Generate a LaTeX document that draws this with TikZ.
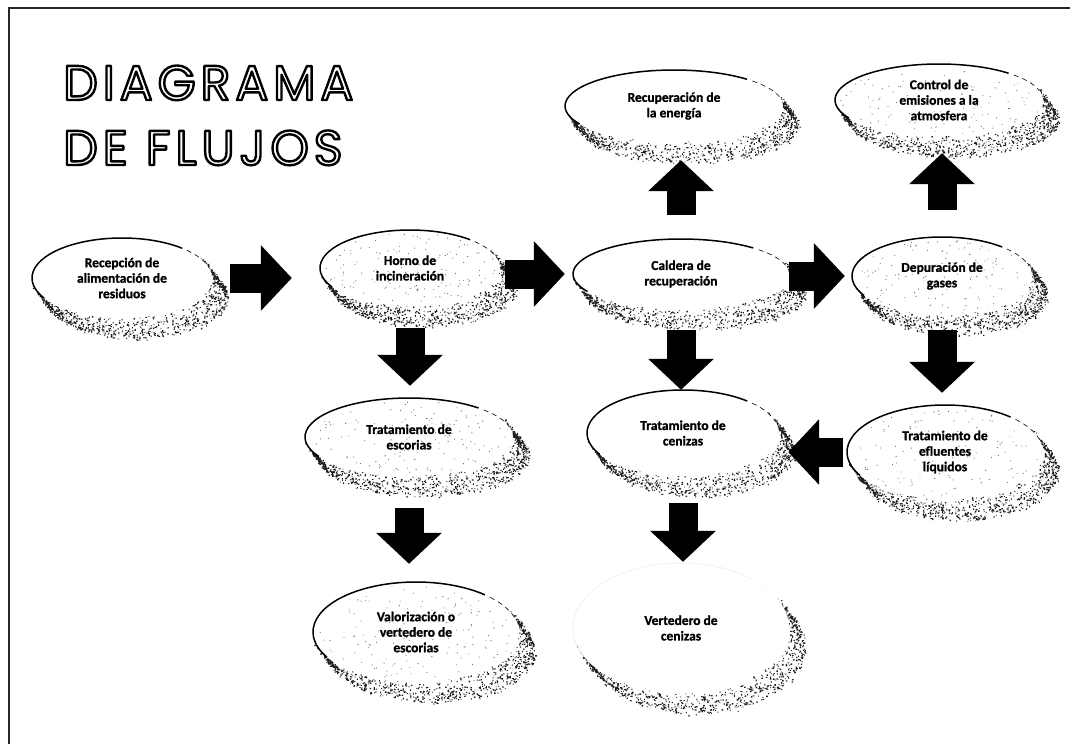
\documentclass[tikz,border=0pt]{standalone}
\usepackage{fontspec}
\setmainfont{Carlito}[BoldFeatures={FakeBold=1.2}]
\newfontfamily\titlefont[LetterSpace=10]{Poppins}
\usetikzlibrary{shapes.geometric,arrows.meta}

\colorlet{grain}{black!88}

% stroked (hollow) lettering
\newcommand\hollowtext[1]{%
  \special{pdf:literal direct 1 Tr 2.4 w 1 j}#1\special{pdf:literal direct 0 Tr}}

% #1 name, #2 cx, #3 cy, #4 rx, #5 ry, #6 inner specks, #7 rim opacity, #8 text
\newcommand\flowellipse[8]{%
  % grainy shadow swept towards the lower right
  \fill[grain] \foreach \k [evaluate=\k as \spkT using {-30+205*rnd},
                            evaluate=\k as \spkR using {1.2*rnd^0.75}] in {1,...,880}
    {({#2+#4*cos(\spkT)+13*\spkR+4*(rnd-0.5)},{#3+#5*sin(\spkT)+17*\spkR+4*(rnd-0.5)})
      rectangle ++({0.7+0.9*rnd},{0.7+0.9*rnd})};
  \fill[white] (#2,#3) ellipse [x radius=#4, y radius=#5];
  \ifnum#6>0
    \fill[black!55] \foreach \k [evaluate=\k as \spkT using {360*rnd},
                                 evaluate=\k as \spkR using {0.95*sqrt(rnd)}] in {1,...,#6}
      {({#2+#4*\spkR*cos(\spkT)},{#3+#5*\spkR*sin(\spkT)}) rectangle ++(0.9,0.9)};
  \fi
  \draw[rimline, draw opacity=#7] (#2,#3) ++(150:#4 and #5)
    arc[start angle=150, end angle=312, x radius=#4, y radius=#5];
  \draw[rimline, line width=0.6pt, dash pattern=on 5pt off 4pt, draw opacity=#7]
    (#2,#3) ++(316:#4 and #5) arc[start angle=316, end angle=345, x radius=#4, y radius=#5];
  \node[flowtext, minimum width={2*#4}, minimum height={2*#5}] (#1) at (#2,#3) {#8};
}

\begin{document}
\begin{tikzpicture}[x=1pt, y=-1pt,
  flowtext/.style={shape=ellipse, inner sep=0pt, align=center,
    font=\bfseries\fontsize{13.5}{15.5}\selectfont},
  rimline/.style={line width=1.5pt, black},
  bigarrow/.style={line width=29pt, black, -{Triangle[length=31pt, width=64pt]}},
  frame/.style={line width=1.6pt, black!85}]
\pgfmathsetseed{2024}
\useasboundingbox (0,0) rectangle (1070,744);
\draw[frame] (9,744) -- (9,8) -- (1070,8);

% title
\node[anchor=base west, inner sep=0pt] (titleA) at (63,100)
  {\titlefont\fontsize{49}{49}\selectfont\hollowtext{DIAGRAMA}};
\node[anchor=base west, inner sep=0pt] (titleB) at (63,165)
  {\titlefont\fontsize{49}{49}\selectfont\hollowtext{DE FLUJOS}};

% process stages
\flowellipse{energia}{674}{106}{109}{36}{0}{1}{Recuperación de\\la energía}
\flowellipse{control}{939}{100}{104}{36}{110}{1}{Control de\\emisiones a la\\atmosfera}
\flowellipse{recep}{122}{278}{90}{40}{0}{1}{Recepción de\\alimentación de\\residuos}
\flowellipse{horno}{410}{268}{90}{38}{140}{1}{Horno de\\incineración}
\flowellipse{caldera}{681}{274}{108}{35}{0}{1}{Caldera de\\recuperación}
\flowellipse{depur}{942}{276}{90}{39}{130}{1}{Depuración de\\gases}
\flowellipse{escorias}{409}{437}{104}{39}{140}{1}{Tratamiento de\\escorias}
\flowellipse{cenizas}{683}{433}{96}{43}{0}{1}{Tratamiento de\\cenizas}
\flowellipse{efluentes}{945}{452}{98}{47}{120}{1}{Tratamiento de\\efluentes\\líquidos}
\flowellipse{valoriz}{416}{632}{103}{50}{140}{1}{Valorización o\\vertedero de\\escorias}
\flowellipse{vertedero}{681}{628}{108}{65}{0}{0.04}{Vertedero de\\cenizas}

% flows
\draw[bigarrow, shorten <=18pt, shorten >=28pt] (recep.east) -- (recep.east -| horno.west);
\draw[bigarrow, shorten <=5pt, shorten >=8pt] (caldera.west -| horno.east) -- (caldera.west);
\draw[bigarrow, shorten >=7pt] (depur.west -| caldera.east) -- (depur.west);
\draw[bigarrow, shorten <=4pt, shorten >=9pt] (efluentes.west) -- (efluentes.west -| cenizas.east);
\draw[bigarrow, shorten <=22pt, shorten >=12pt] (horno.south) -- (horno.south |- escorias.north);
\draw[bigarrow, shorten <=21pt] (caldera.south) -- (caldera.south |- cenizas.north);
\draw[bigarrow, shorten <=15pt, shorten >=12pt] (depur.south) -- (depur.south |- efluentes.north);
\draw[bigarrow, shorten <=32pt, shorten >=18pt] (escorias.south) -- (escorias.south |- valoriz.north);
\draw[bigarrow, shorten <=27pt, shorten >=1pt] (cenizas.south) -- (cenizas.south |- vertedero.north);
\draw[bigarrow, shorten <=24pt, shorten >=18pt] (caldera.north) -- (caldera.north |- energia.south);
\draw[bigarrow, shorten <=27pt, shorten >=17pt] (depur.north) -- (depur.north |- control.south);
\end{tikzpicture}
\end{document}
